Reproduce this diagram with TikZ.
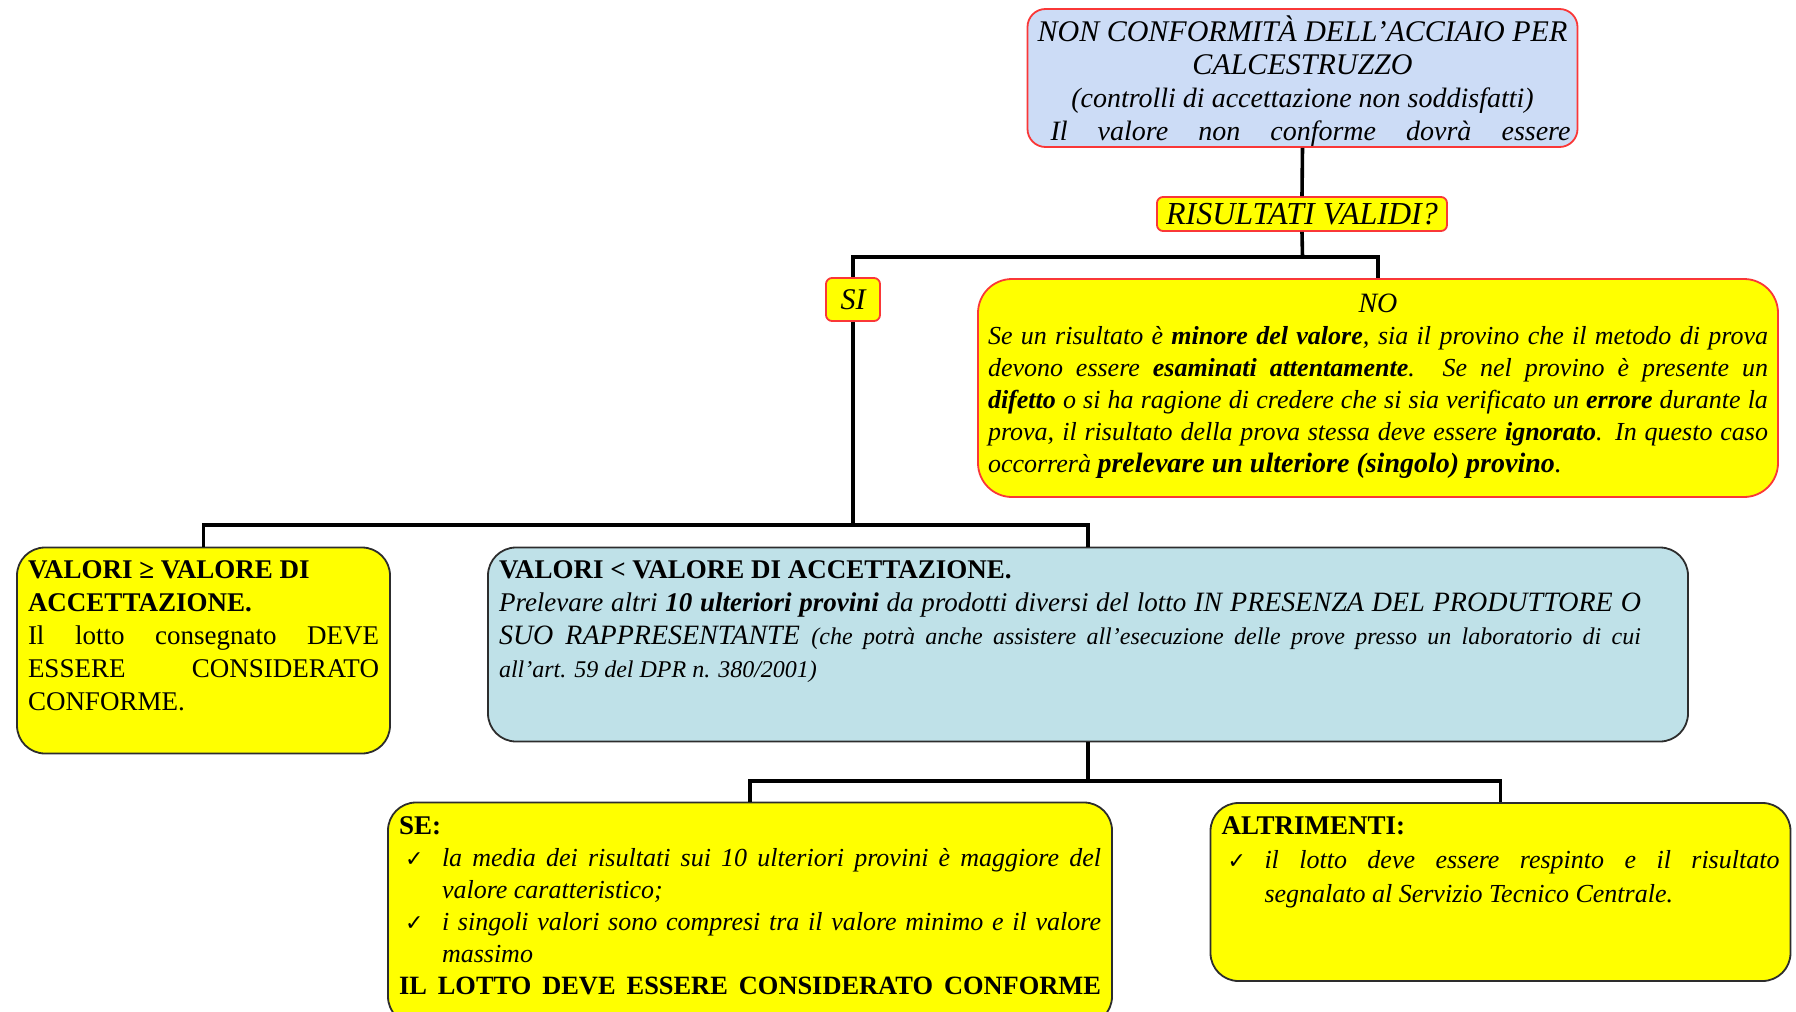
\documentclass[tikz,border=0pt]{standalone}
\usepackage{fontspec}
\setmainfont{Liberation Serif}
\newfontfamily\symfont{DejaVu Sans}
\usepackage{tikz}
\definecolor{boxred}{RGB}{250,55,55}
\definecolor{boxdark}{RGB}{45,45,45}
\definecolor{titleblue}{RGB}{204,220,246}
\definecolor{stepblue}{RGB}{191,225,232}
\definecolor{boxyellow}{RGB}{255,255,0}
\newcommand{\boxtext}[4][0pt]{\parbox[c][#3][t]{#2}{\vspace*{#1}#4}}
\newcommand{\checkitem}[1]{\par\hangindent=21.5pt\hangafter=1\noindent\makebox[21.5pt][l]{\hspace{3pt}\symfont\fontsize{11}{11}\selectfont ✓}{#1}}

\begin{document}
\begin{tikzpicture}[x=0.5pt,y=-0.5pt]
\tikzstyle{every node}+=[inner sep=0pt]
\tikzstyle{redbox}=[draw=boxred, fill=boxyellow, line width=0.9pt]
\tikzstyle{darkbox}=[draw=boxdark, fill=boxyellow, line width=0.9pt, rounded corners=14pt, inner xsep=5.5pt, inner ysep=4.5pt]
\tikzstyle{wire}=[black, line width=1.8pt]
\useasboundingbox (0,0) rectangle (1796,1012);
\node [redbox, fill=titleblue, rounded corners=9pt, inner xsep=3.5pt, inner ysep=3.5pt] (title) at (1302.5,78)
  {\boxtext{268pt}{62pt}{\fontsize{15}{16.5}\selectfont\itshape\centering
  NON CONFORMITÀ DELL'ACCIAIO PER\\ CALCESTRUZZO\\
  {\fontsize{14}{16.5}\selectfont (controlli di accettazione non soddisfatti)}\\
  {\fontsize{14}{16.5}\selectfont\makebox[\linewidth][s]{\hspace{8pt}Il valore non conforme dovrà essere}}\par}};
\node [redbox, rounded corners=3pt, minimum width=145pt, minimum height=17pt] (check) at (1302,214)
  {\fontsize{16}{16}\selectfont\itshape RISULTATI VALIDI?};
\node [redbox, rounded corners=3pt, minimum width=27pt, minimum height=21.5pt] (si) at (853,299.5)
  {\fontsize{15}{16}\selectfont\itshape SI};
\node [redbox, rounded corners=17pt, inner xsep=5pt, inner ysep=4.5pt] (no) at (1378,388)
  {\boxtext[3pt]{390pt}{100pt}{\fontsize{13}{16}\selectfont\itshape
  {\centering\fontsize{14}{16}\selectfont NO\par}
  Se un risultato è \textbf{minore del valore}, sia il provino che il metodo di prova\linebreak
  devono essere \textbf{esaminati attentamente}. Se nel provino è presente un\linebreak
  \textbf{difetto} o si ha ragione di credere che si sia verificato un \textbf{errore} durante la\linebreak
  prova, il risultato della prova stessa deve essere \textbf{ignorato}. In questo caso\linebreak
  occorrerà {\fontsize{14}{16}\selectfont\textbf{prelevare un ulteriore (singolo) provino}.}}};
\node [darkbox] (ok) at (203.5,650.5)
  {\boxtext[2pt]{175.5pt}{94pt}{\fontsize{13.5}{16.5}\selectfont
  \textbf{VALORI ≥ VALORE DI\\ ACCETTAZIONE.}\\
  Il lotto consegnato DEVE\linebreak ESSERE CONSIDERATO\linebreak CONFORME.}};
\node [darkbox, fill=stepblue] (ko) at (1088,644.5)
  {\boxtext[2pt]{589pt}{88pt}{\rightskip=18pt\fontsize{13.5}{16.5}\selectfont
  \textbf{VALORI < VALORE DI ACCETTAZIONE.}\\
  {\itshape Prelevare altri \textbf{10 ulteriori provini} da prodotti diversi del lotto {\fontsize{14}{16.5}\selectfont IN PRESENZA DEL PRODUTTORE O}\linebreak
  {\fontsize{14}{16.5}\selectfont SUO RAPPRESENTANTE} {\fontsize{12}{17}\selectfont (che potrà anche assistere all'esecuzione delle prove presso un laboratorio di cui\linebreak
  all'art. 59 del DPR n. 380/2001)}}}};
\node [darkbox] (se) at (750,913.5)
  {\boxtext[2.5pt]{351pt}{102pt}{\fontsize{13.5}{16}\selectfont
  \textbf{SE:}
  \checkitem{\itshape\fontsize{13}{16}\selectfont la media dei risultati sui 10 ulteriori provini è maggiore del\linebreak valore caratteristico;}
  \checkitem{\itshape\fontsize{13}{16}\selectfont i singoli valori sono compresi tra il valore minimo e il valore\linebreak massimo}
  \par\noindent{\fontsize{13.2}{16}\selectfont\bfseries\makebox[\linewidth][s]{IL LOTTO DEVE ESSERE CONSIDERATO CONFORME}}}};
\node [darkbox] (alt) at (1500.5,892)
  {\boxtext[2.5pt]{279pt}{80pt}{\fontsize{13.5}{17}\selectfont
  \textbf{ALTRIMENTI:}
  \checkitem{\itshape\fontsize{13}{17}\selectfont il lotto deve essere respinto e il risultato\linebreak segnalato al Servizio Tecnico Centrale.}}};
\coordinate (j1) at (1302.5,257);
\coordinate (j2) at (853,525);
\coordinate (j3) at (1088,781);
\draw [wire] (title.south) -- (check.north);
\draw [wire] (check.south) -- (j1);
\draw [wire] (si.north) |- (j1) -| (no.north);
\draw [wire] (si.south) -- (j2);
\draw [wire] (ok.north) |- (j2) -| (ko.north);
\draw [wire] (ko.south) -- (j3);
\draw [wire] (se.north) |- (j3) -| (alt.north);
\end{tikzpicture}
\end{document}
